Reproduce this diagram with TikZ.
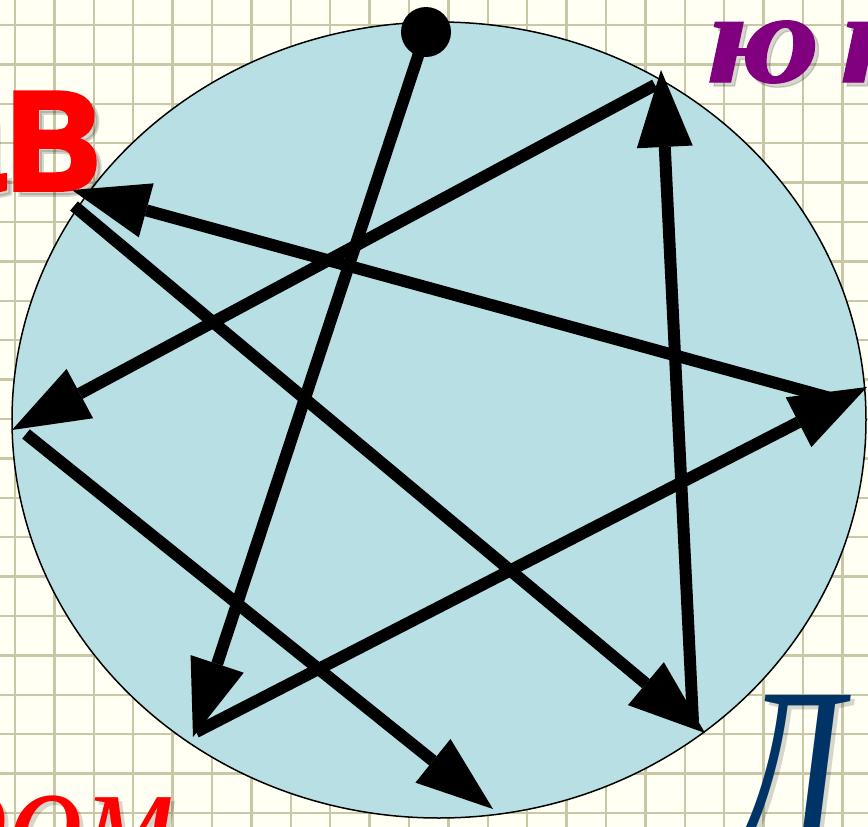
\documentclass[tikz,border=0pt]{standalone}
\usepackage{fontspec}
\usetikzlibrary{arrows.meta}
\newfontfamily\myserif{Liberation Serif}
\newfontfamily\mysansheavy[FakeStretch=0.85,FakeBold=2]{Liberation Sans}
\newfontfamily\mywideserif[FakeStretch=1.2,FakeBold=1]{Liberation Serif}
\newfontfamily\mynarrowserif[FakeStretch=0.72]{Liberation Serif}
\definecolor{paper}{RGB}{255,255,244}
\definecolor{gridc}{RGB}{200,200,166}
\definecolor{circ}{RGB}{184,223,227}
\definecolor{redt}{RGB}{255,0,0}
\definecolor{purp}{RGB}{128,0,128}
\definecolor{navy}{RGB}{0,51,102}
\tikzset{
  arr/.style={line width=12pt, draw=black, line cap=butt,
    -{Triangle[length=77pt,width=56pt,line width=0pt]}},
  shadowtxt/.style={text=black, opacity=0.16, inner sep=0pt, outer sep=0pt},
  txt/.style={inner sep=0pt, outer sep=0pt}
}
\newcommand{\avtext}{\mysansheavy\bfseries\fontsize{185}{185}\selectfont ав}
\newcommand{\yktext}{\mywideserif\bfseries\itshape\fontsize{130}{130}\selectfont ю\kern20pt к}
\newcommand{\romtext}{\myserif\itshape\fontsize{150}{150}\selectfont ром}
\newcommand{\dtext}{\mynarrowserif\itshape\fontsize{240}{240}\selectfont Д}
\begin{document}
\begin{tikzpicture}[x=1pt,y=-1pt]
\useasboundingbox (0,0) rectangle (868,827);
\clip (0,0) rectangle (868,827);
% paper and grid
\fill[paper] (0,0) rectangle (868,827);
\foreach \i in {0,...,22} {
  \draw[gridc, line width=2.3pt] ({15+39.4*\i},0) -- ({15+39.4*\i},827);
}
\foreach \j in {0,...,20} {
  \draw[gridc, line width=2.3pt] (0,{25+39.4*\j}) -- (868,{25+39.4*\j});
}
% disc
\draw[fill=circ, line width=1.5pt] (439,420) ellipse [x radius=427pt, y radius=398pt];
% vertices
\node[circle, fill=black, minimum size=50pt, inner sep=0pt] (p0) at (426,32) {};
\coordinate (t1) at (193,737);
\coordinate (s2) at (196,732);
\coordinate (t2) at (867,387);
\coordinate (s3) at (845,402);
\coordinate (t3) at (72,190);
\coordinate (s4) at (74,206);
\coordinate (t4) at (705,733);
\coordinate (s5) at (693,722);
\coordinate (t5) at (661,70);
\coordinate (s6) at (655,85);
\coordinate (t6) at (12,430);
\coordinate (s7) at (26,434);
\coordinate (t7) at (493,809);
% star path
\draw[arr] (p0.center) -- (t1);
\draw[arr] (s2) -- (t2);
\draw[arr] (s3) -- (t3);
\draw[arr] (s4) -- (t4);
\draw[arr] (s5) -- (t5);
\draw[arr] (s6) -- (t6);
\draw[arr] (s7) -- (t7);
% texts
\node[shadowtxt, anchor=base east] (av0) at (106,195) {\avtext};
\node[txt, anchor=base east, text=redt] (av) at (101,190) {\avtext};
\node[shadowtxt, anchor=base west] (yk0) at (710,86) {\yktext};
\node[txt, anchor=base west, text=purp] (yk) at (706,82) {\yktext};
\node[shadowtxt, anchor=base west] (rom0) at (-61,870) {\romtext};
\node[txt, anchor=base west, text=redt] (rom) at (-65,866) {\romtext};
\node[shadowtxt, anchor=base west] (d0) at (737,856) {\dtext};
\node[txt, anchor=base west, text=navy] (d) at (733,852) {\dtext};
\end{tikzpicture}
\end{document}
